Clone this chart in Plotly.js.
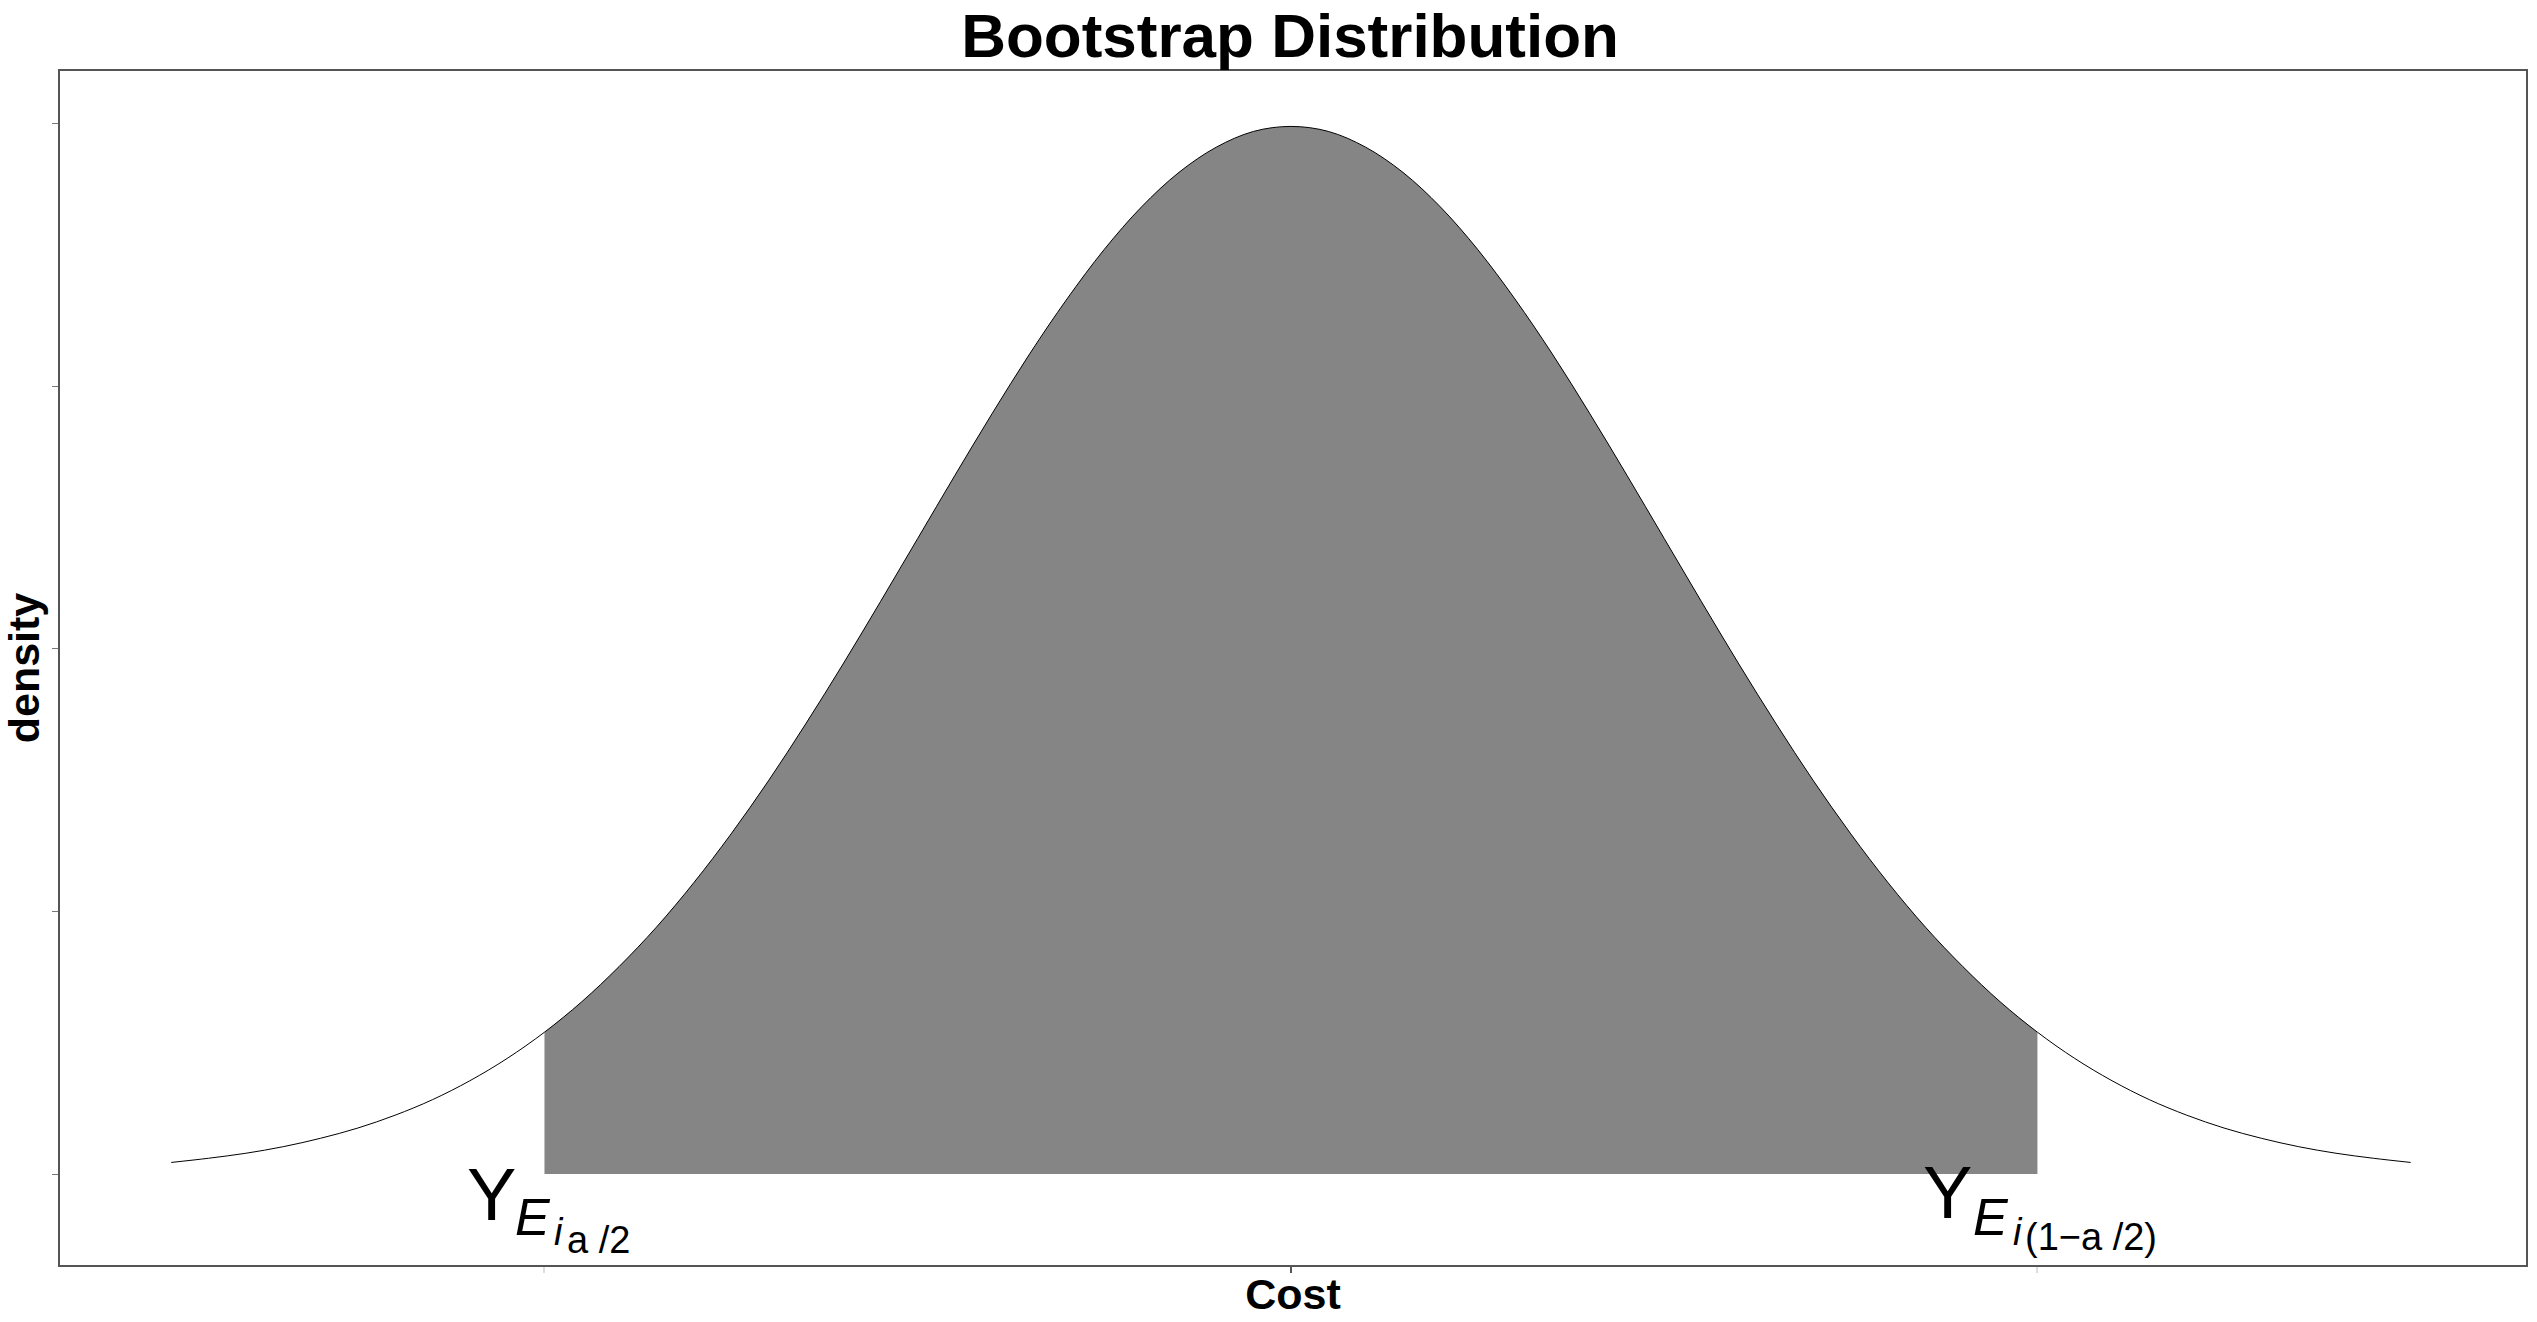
<!DOCTYPE html>
<html>
<head>
<meta charset="utf-8">
<script src="https://cdn.plot.ly/plotly-3.0.1.min.js"></script>
<style>html,body{margin:0;padding:0;background:#fff;}#chart{width:2537px;height:1322px;}</style>
</head>
<body>
<div id="chart"></div>
<script>
// Cost values (standardised) and density
const costX = [-3.0,-2.9,-2.8,-2.7,-2.6,-2.5,-2.4,-2.3,-2.2,-2.1,-2.0,-1.9,-1.8,-1.7,-1.6,-1.5,-1.4,-1.3,-1.2,-1.1,-1.0,-0.9,-0.8,-0.7,-0.6,-0.5,-0.4,-0.3,-0.2,-0.1,0.0,0.1,0.2,0.3,0.4,0.5,0.6,0.7,0.8,0.9,1.0,1.1,1.2,1.3,1.4,1.5,1.6,1.7,1.8,1.9,2.0,2.1,2.2,2.3,2.4,2.5,2.6,2.7,2.8,2.9,3.0];
const densityY = [0.0044,0.0060,0.0079,0.0104,0.0136,0.0175,0.0224,0.0283,0.0355,0.0440,0.0540,0.0656,0.0790,0.0940,0.1109,0.1295,0.1497,0.1714,0.1942,0.2179,0.2420,0.2661,0.2897,0.3123,0.3332,0.3521,0.3683,0.3814,0.3910,0.3970,0.3989,0.3970,0.3910,0.3814,0.3683,0.3521,0.3332,0.3123,0.2897,0.2661,0.2420,0.2179,0.1942,0.1714,0.1497,0.1295,0.1109,0.0940,0.0790,0.0656,0.0540,0.0440,0.0355,0.0283,0.0224,0.0175,0.0136,0.0104,0.0079,0.0060,0.0044];
// Interval bounds (quantiles)
const lowerQ = -2.0;
const upperQ = 2.0;
// Tick positions
const yTicks = [0, 0.1, 0.2, 0.3, 0.4];
const xTicks = [0];
const xMinorTicks = [lowerQ, upperQ];
// Texts
const titleText = "Bootstrap Distribution";
const xTitle = "Cost";
const yTitle = "density";
const leftLabelParts = ["Y", "E", "i", "a /2"];
const rightLabelParts = ["Y", "E", "i", "(1\u2212a /2)"];

const shadeX = [], shadeY = [];
for (let k = 0; k < costX.length; k++) {
  if (costX[k] >= lowerQ - 1e-9 && costX[k] <= upperQ + 1e-9) { shadeX.push(costX[k]); shadeY.push(densityY[k]); }
}

const FONT = '"Liberation Sans", Arial, Helvetica, sans-serif';

const traces = [
  {x: shadeX, y: shadeY, type: 'scatter', mode: 'lines', fill: 'tozeroy',
   fillcolor: '#858585', line: {width: 0, shape: 'spline', color: '#858585'}, hoverinfo: 'skip'},
  {x: costX, y: densityY, type: 'scatter', mode: 'lines',
   line: {width: 1, color: '#000000', shape: 'spline'}, hoverinfo: 'skip'}
];

// piece styles: [size, italic, xshift, yshift]
const leftStyle = [[74, false, -79, -20], [52, true, -31, -43], [38, true, 8, -58], [38, false, 21, -66]];
const rightStyle = [[74, false, -116, -18], [52, true, -66, -43], [38, true, -26, -58], [38, false, -14, -63]];

const annotations = [];
function addLabel(parts, styles, xq) {
  parts.forEach((p, k) => {
    const s = styles[k];
    annotations.push({
      x: xq, y: 0, xref: 'x', yref: 'y', showarrow: false,
      xanchor: 'left', yanchor: 'middle', xshift: s[2], yshift: s[3],
      text: s[1] ? '<i>' + p + '</i>' : p,
      font: {family: FONT, size: s[0], color: '#000'}
    });
  });
}
addLabel(leftLabelParts, leftStyle, lowerQ);
addLabel(rightLabelParts, rightStyle, upperQ);

const layout = {
  width: 2537, height: 1322,
  margin: {l: 60, r: 11, t: 71, b: 57, pad: 0},
  paper_bgcolor: '#fff', plot_bgcolor: '#fff',
  showlegend: false,
  font: {family: FONT, color: '#000'},
  title: {text: '<b>' + titleText + '</b>', font: {family: FONT, size: 62, color: '#000'},
          x: 0.5085, xanchor: 'center', xref: 'container', y: 0.9733, yanchor: 'middle', yref: 'container'},
  xaxis: {
    range: [-3.298, 3.309], showgrid: false, zeroline: false,
    showline: true, linecolor: '#555', linewidth: 2, mirror: true,
    tickvals: xTicks, ticktext: [''], ticks: 'outside', ticklen: 6, tickwidth: 2, tickcolor: '#555',
    minor: {tickvals: xMinorTicks, ticks: 'outside', ticklen: 6, tickwidth: 2, tickcolor: '#dddddd', showgrid: false},
    showticklabels: false,
    title: {text: '<b>' + xTitle + '</b>', font: {family: FONT, size: 43, color: '#000'}, standoff: 7}
  },
  yaxis: {
    range: [-0.03465, 0.42], showgrid: false, zeroline: false,
    showline: true, linecolor: '#555', linewidth: 2, mirror: true,
    tickvals: yTicks, ticks: 'outside', ticklen: 6, tickwidth: 1, tickcolor: '#777',
    showticklabels: false,
    title: {text: '<b>' + yTitle + '</b>', font: {family: FONT, size: 43, color: '#000'}, standoff: 0}
  },
  annotations: annotations
};

Plotly.newPlot('chart', traces, layout, {displayModeBar: false, staticPlot: true});
</script>
</body>
</html>
